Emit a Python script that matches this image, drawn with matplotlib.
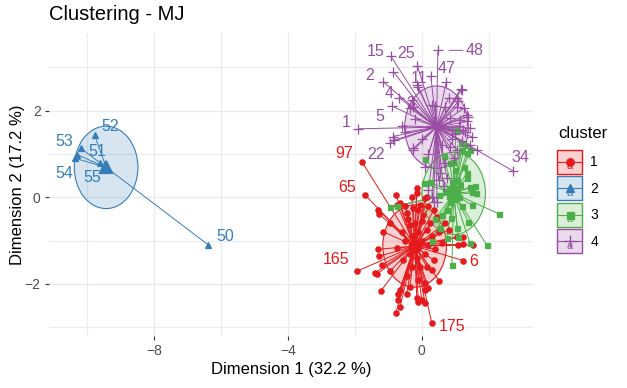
import matplotlib
matplotlib.use("Agg")
import matplotlib.pyplot as plt
from matplotlib.patches import Ellipse, Rectangle
from matplotlib.lines import Line2D
from matplotlib.text import Text
from matplotlib.collections import LineCollection
from matplotlib.legend_handler import HandlerBase
from matplotlib.colors import to_rgba
import numpy as np

plt.rcParams['font.family'] = ['Liberation Sans', 'DejaVu Sans']

## Cluster 1 (first 5 points carry labels)
c1_x = [-1.79, -1.69, -1.92, 1.24, 0.30,
        -0.77, -1.30, -1.27, -0.73, -1.16, -0.95, -1.30, -1.27, -1.39, -0.95,
        -1.22, -0.70, -0.70, -0.65, -0.77, -0.15, 0.00, 0.10, 0.20, 0.10,
        0.52, 0.30, -0.45, -0.35, -0.75, -0.30, -0.15, -0.05, 0.10, -0.45,
        1.04, 1.09, 1.24, 1.52, 1.24, -0.65, -0.15, 0.15, -1.19, -1.34,
        -0.65, -0.45, -0.10, 0.10,
        -0.20, -0.10, -0.30, 0.00, -0.25, -0.15, -0.35, -0.05, 0.10, 0.20,
        0.30, 0.40, -0.50, -0.60, -0.40, 0.05, 0.25, 0.50, 0.60, -0.10,
        -0.30, 0.15, -0.55, 0.35, 0.45, 0.70, 0.80,
        -0.10, 0.20, -0.25, 0.35, -0.50, 0.00, 0.15, -0.35]
c1_y = [0.82, 0.05, -1.70, -1.46, -2.91,
        0.05, -0.29, -0.39, -0.18, -0.79, -0.60, -1.20, -1.36, -1.74, -1.70,
        -2.16, -2.22, -2.36, -2.53, -2.66, -2.33, -2.37, -2.45, -2.10, -1.97,
        -1.93, -1.68, -1.82, -2.06, -1.18, 0.01, 0.09, -0.18, -0.02, -0.37,
        -0.91, -1.10, -1.08, -1.10, -0.91, -0.14, 0.21, 0.01, -1.56, -1.77,
        -2.14, -2.22, -2.41, -2.14,
        -0.60, -0.80, -0.90, -1.00, -1.20, -1.40, -1.30, -1.60, -1.30, -1.10,
        -0.90, -1.20, -1.00, -0.80, -0.50, -0.40, -0.60, -0.80, -1.05, -1.90,
        -1.60, -1.60, -1.45, -1.45, -0.45, -0.60, -0.75,
        -0.30, -0.20, -0.25, -0.30, -0.20, -0.55, -0.75, -0.65]
c1_labels = ['97', '65', '165', '6', '175']

## Cluster 2
c2_x = [-6.37, -9.77, -10.18, -10.28, -10.35, -9.60]
c2_y = [-1.10, 1.44, 1.13, 0.98, 0.90, 0.79]
c2_labels = ['50', '52', '53', '51', '54', '55']

## Cluster 3
c3_x = [0.10, 0.07, 0.23, 0.50, 1.34, 1.44, 1.62, 1.49, 2.30, 1.39,
        1.95, 1.06, 0.55, 0.75, 1.09, 1.44, 1.19, 1.34, 1.44, 0.99,
        0.84, 1.34, 1.14, 0.90, -0.95, -0.75, 1.49, 1.59, 0.87, 1.02,
        1.16, 1.29, 0.94, 0.80, 0.95, 1.00, 0.85, 1.10, 0.70, 0.90,
        1.05, 0.75, 1.20, 0.60, 0.40, 1.25, 0.65, 0.30]
c3_y = [0.88, 0.32, 0.36, 0.05, 0.55, 0.24, 0.09, -0.18, -0.38, -0.56,
        -1.11, -0.72, -0.72, -0.95, -0.91, -1.06, 1.08, 1.02, 1.09, 0.63,
        0.79, 0.44, 0.28, -1.56, -0.23, -0.20, 0.13, 0.26, -0.48, 1.55,
        1.26, 1.21, 0.82, 0.20, 0.10, -0.05, -0.10, 0.00, 0.15, 0.35,
        0.40, -0.30, -0.20, -0.40, -0.50, 0.70, 0.95, -1.00]
c3_labels = []

## Cluster 4 (first 12 points carry labels)
c4_x = [-1.89, -0.90, -0.67, -1.16, -0.92, -0.13, -0.10, 0.27, 0.48, -0.27, -0.95, 2.72,
        -0.85, -0.83, -0.87, -0.25, 1.19, 1.04, 1.09, 1.34, 1.39, 1.14,
        1.24, 1.64, 1.44, 0.40, 0.70, 1.04, 0.84, 0.30, -0.20, -0.35,
        -0.30, 0.73, 1.16, 0.35, 0.50, 0.55, 0.20, -0.25, 0.45, 0.30,
        -0.15, 0.00, 0.90, 0.60, -0.50, -0.60, 0.20, 0.10,
        1.00, 1.20, 1.10, 1.30, 0.90, 1.45, 0.80, 1.25, 1.50, 0.95,
        0.75, 0.65, 1.05, 1.35, 0.85, 0.70]
c4_y = [1.58, 2.11, 2.30, 2.67, 3.25, 3.03, 2.55, 2.79, 3.39, 2.08, 1.26, 0.61,
        2.90, 1.32, 1.40, 1.13, 2.48, 2.29, 2.21, 1.90, 1.86, 1.79,
        1.55, 1.09, 1.21, 2.11, 2.08, 2.09, 1.82, 2.13, 1.80, 2.06,
        2.25, 2.65, 2.49, -0.10, 0.40, 0.55, 0.17, 1.09, -0.10, 0.01,
        2.60, 1.35, 1.35, 1.20, 1.50, 1.65, 1.00, 0.70,
        1.45, 1.30, 1.65, 1.50, 1.55, 1.60, 2.30, 2.05, 1.40, 0.90,
        0.45, 0.25, 1.10, 1.75, 1.15, 0.80]
c4_labels = ['1', '5', '4', '2', '15', '25', '11', '47', '48', '3', '22', '34']

cluster_names = ['1', '2', '3', '4']
colors = ['#E41A1C', '#377EB8', '#4DAF4A', '#984EA3']
markers = ['o', '^', 's', '+']
msizes = [3.8, 4.2, 3.6, 6.5]
radius = 0.95  # euclid "ellipse" level

# label offsets in pixels (repel positions)
lab_off = {'97': (-18, 8), '65': (-18, 8), '165': (-21, 11), '6': (10, -1), '175': (20, -3),
           '50': (17, 8), '52': (16, 8), '53': (-17, 7), '51': (20, 3), '54': (-11, -15),
           '55': (-8, -14), '1': (-12, 6), '5': (-12, -11), '4': (-10, 4), '2': (-13, 6),
           '15': (-15, 5), '25': (-11, 12), '11': (1, 8), '47': (16, 8), '48': (37, 0),
           '3': (-2, 4), '22': (-14, -12), '34': (7, 13)}

xs = [c1_x, c2_x, c3_x, c4_x]
ys = [c1_y, c2_y, c3_y, c4_y]
labs = [c1_labels, c2_labels, c3_labels, c4_labels]

fig = plt.figure(figsize=(6.27, 3.88), dpi=100)
ax = fig.add_axes([49/627, 1-336/388, 484/627, 303/388])

centers = []
for k in range(4):
    x = np.array(xs[k]); y = np.array(ys[k])
    cx, cy = x.mean(), y.mean()
    centers.append((cx, cy))
    ax.add_patch(Ellipse((cx, cy), 2*radius, 2*radius, facecolor=to_rgba(colors[k], 0.2),
                         edgecolor=colors[k], lw=0.8, zorder=1))

for k in range(4):
    x = np.array(xs[k]); y = np.array(ys[k])
    cx, cy = centers[k]
    segs = [[(cx, cy), (a, b)] for a, b in zip(x, y)]
    ax.add_collection(LineCollection(segs, colors=colors[k], linewidths=0.7, zorder=2))

for k in range(4):
    ax.plot(xs[k], ys[k], linestyle='none', marker=markers[k], ms=msizes[k],
            color=colors[k], mew=0.9, zorder=3)
    ax.plot([centers[k][0]], [centers[k][1]], linestyle='none', marker=markers[k],
            ms=msizes[k]*2.2, color=colors[k], mew=1.6, zorder=4)

for k in range(4):
    for i, t in enumerate(labs[k]):
        dx, dy = lab_off[t]
        arrow = None
        if t == '48':
            arrow = dict(arrowstyle='-', color=colors[k], lw=0.7, shrinkA=0, shrinkB=8)
        ax.annotate(t, (xs[k][i], ys[k][i]), xytext=(dx, dy), textcoords='offset pixels',
                    ha='center', va='center', color=colors[k], fontsize=11.5,
                    arrowprops=arrow, zorder=5)

ax.set_xlim(-11.13, 3.32)
ax.set_ylim(-3.20, 3.79)
ax.set_xticks([-8, -4, 0])
ax.set_yticks([-2, 0, 2])
ax.set_xticks([-10, -6, -2, 2], minor=True)
ax.set_yticks([-3, -1, 1, 3], minor=True)
ax.grid(which='major', color='#EBEBEB', lw=1.0, zorder=0)
ax.grid(which='minor', color='#EBEBEB', lw=0.8, zorder=0)
ax.set_axisbelow(True)
for s in ax.spines.values():
    s.set_visible(False)
ax.tick_params(which='major', length=3, width=0.8, color='#333333', labelcolor='#4D4D4D',
               labelsize=10, pad=3)
ax.tick_params(which='minor', length=0)

ax.set_xlabel('Dimension 1 (32.2 %)', fontsize=12)
ax.set_ylabel('Dimension 2 (17.2 %)', fontsize=12)
ax.xaxis.set_label_coords(0.5, -0.085)
ax.yaxis.set_label_coords(-0.05, 0.5)
fig.text(49/627, 1-15/388, 'Clustering - MJ', fontsize=14.5, ha='left', va='center')

## legend keys like ggplot: box + segment + point + "a"
class KeyHandler(HandlerBase):
    def __init__(self, color, marker, ms):
        super().__init__()
        self.color, self.marker, self.ms = color, marker, ms
    def create_artists(self, legend, orig_handle, xdescent, ydescent, width, height, fontsize, trans):
        x0, y0 = -xdescent, -ydescent
        rect = Rectangle((x0, y0), width, height, facecolor=to_rgba(self.color, 0.2),
                         edgecolor=self.color, lw=1.0, transform=trans)
        seg = Line2D([x0, x0+width], [y0+height/2]*2, color=self.color, lw=0.8, transform=trans)
        txt = Text(x0+width/2, y0+height*0.32, 'a', color=self.color, fontsize=8,
                   ha='center', va='center', transform=trans)
        pt = Line2D([x0+width/2], [y0+height/2], marker=self.marker, ms=self.ms*1.4,
                    color=self.color, mew=1.0, linestyle='none', transform=trans)
        return [rect, seg, txt, pt]

handles = [Rectangle((0, 0), 1, 1) for _ in range(4)]
hmap = {h: KeyHandler(colors[k], markers[k], msizes[k]) for k, h in enumerate(handles)}
leg = fig.legend(handles, cluster_names, handler_map=hmap,
                 loc='upper left', bbox_to_anchor=(557/627, 1-150/388), frameon=False,
                 fontsize=10, handlelength=1.8, handleheight=2.28,
                 labelspacing=0.18, handletextpad=0.6, borderpad=0, borderaxespad=0)
fig.text(558/627, 1-133/388, 'cluster', fontsize=12, ha='left', va='center')

fig.savefig('out.png', dpi=100)
